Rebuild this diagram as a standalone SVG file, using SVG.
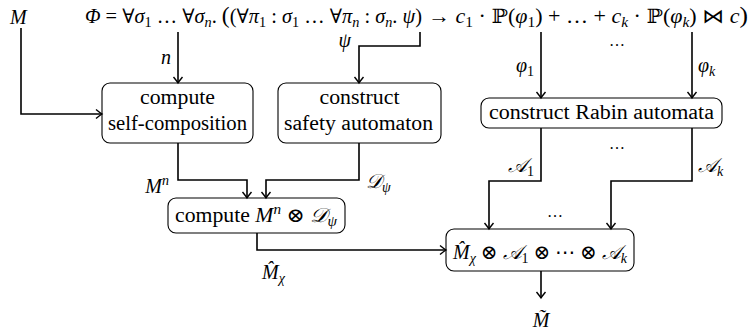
<svg xmlns="http://www.w3.org/2000/svg" width="754" height="336" viewBox="0 0 754 336">
<style>
.t{font-family:"Liberation Serif","DejaVu Serif","DejaVu Sans",serif;font-size:20px;fill:#000}
.m{font-style:italic}
.sb{font-size:14px;baseline-shift:-4px}
.sp{font-size:14px;baseline-shift:8px}
.big{font-size:23px}
.dots{font-size:16px}
.box{fill:#fff;stroke:#000;stroke-width:1.1}
.ln{fill:none;stroke:#000;stroke-width:1.6;marker-end:url(#ah)}
</style>
<defs>
<marker id="ah" markerUnits="userSpaceOnUse" markerWidth="12" markerHeight="12" refX="0" refY="0" viewBox="-7 -6 8 12" orient="auto">
<path d="M-6,-4.5 Q-2,-1.2 0,0 Q-2,1.2 -6,4.5" fill="none" stroke="#000" stroke-width="1.4"/>
</marker>
</defs>

<g id="formula">
<text class="t" x="85" y="23" textLength="337" lengthAdjust="spacingAndGlyphs"><tspan class="m">Φ</tspan> = ∀<tspan class="m">σ</tspan><tspan class="sb">1</tspan> … ∀<tspan class="m">σ</tspan><tspan class="sb m">n</tspan>. <tspan class="big">(</tspan>(∀<tspan class="m">π</tspan><tspan class="sb">1</tspan> : <tspan class="m">σ</tspan><tspan class="sb">1</tspan> … ∀<tspan class="m">π</tspan><tspan class="sb m">n</tspan> : <tspan class="m">σ</tspan><tspan class="sb m">n</tspan>. <tspan class="m">ψ</tspan>)</text>
<text class="t" x="428" y="23" textLength="320" lengthAdjust="spacingAndGlyphs">→ <tspan class="m">c</tspan><tspan class="sb">1</tspan> · ℙ(<tspan class="m">φ</tspan><tspan class="sb">1</tspan>) + … + <tspan class="m">c</tspan><tspan class="sb m">k</tspan> · ℙ(<tspan class="m">φ</tspan><tspan class="sb m">k</tspan>) ⋈ <tspan class="m">c</tspan><tspan class="big">)</tspan></text>
</g>

<g id="lblM"><text class="t m" x="10" y="24">M</text></g>

<g id="selfcomp">
<rect class="box" x="102" y="83" width="151" height="60" rx="8"/>
<text class="t" x="177.5" y="104" text-anchor="middle" textLength="75" lengthAdjust="spacingAndGlyphs">compute</text>
<text class="t" x="177.5" y="130" text-anchor="middle" textLength="139" lengthAdjust="spacingAndGlyphs">self-composition</text>
</g>

<g id="safety">
<rect class="box" x="278" y="83" width="163" height="60" rx="8"/>
<text class="t" x="359.5" y="104" text-anchor="middle" textLength="80" lengthAdjust="spacingAndGlyphs">construct</text>
<text class="t" x="358.5" y="130" text-anchor="middle" textLength="149" lengthAdjust="spacingAndGlyphs">safety automaton</text>
</g>

<g id="rabin">
<rect class="box" x="481" y="98" width="241" height="30" rx="8"/>
<text class="t" x="601.5" y="119" text-anchor="middle" textLength="225" lengthAdjust="spacingAndGlyphs">construct Rabin automata</text>
</g>

<g id="product">
<rect class="box" x="168" y="198" width="177" height="35" rx="8"/>
<text class="t" x="175" y="222" textLength="162" lengthAdjust="spacingAndGlyphs">compute <tspan class="m">M</tspan><tspan class="sp m">n</tspan> ⊗ <tspan class="m">𝒟</tspan><tspan class="sb m">ψ</tspan></text>
</g>

<g id="final">
<rect class="box" x="446" y="229" width="188" height="42" rx="8"/>
<text class="t" x="453" y="259" textLength="174" lengthAdjust="spacingAndGlyphs"><tspan class="m">M̂</tspan><tspan class="sb m">χ</tspan> ⊗ <tspan class="m">𝒜</tspan><tspan class="sb">1</tspan> ⊗ ⋯ ⊗ <tspan class="m">𝒜</tspan><tspan class="sb m">k</tspan></text>
</g>

<g id="connectors">
<path class="ln" d="M21,28 V114 H102"/>
<path class="ln" d="M178,32 V83"/>
<path class="ln" d="M420,32 V46 H359 V83"/>
<path class="ln" d="M541,32 V98"/>
<path class="ln" d="M692,32 V98"/>
<path class="ln" d="M178,143 V180 H247 V198"/>
<path class="ln" d="M359,143 V180 H266 V198"/>
<path class="ln" d="M541,128 V181 H489 V229"/>
<path class="ln" d="M692,128 V181 H611 V229"/>
<path class="ln" d="M257,233 V250 H446"/>
<path class="ln" d="M541,271 V298"/>
</g>

<g id="labels">
<text class="t m" x="171" y="64" text-anchor="end">n</text>
<text class="t m" x="351" y="47" text-anchor="end">ψ</text>
<text class="t" x="534" y="72" text-anchor="end"><tspan class="m">φ</tspan><tspan class="sb">1</tspan></text>
<text class="t" x="698" y="72"><tspan class="m">φ</tspan><tspan class="sb m">k</tspan></text>
<text class="t dots" x="617" y="46" text-anchor="middle">…</text>
<text class="t" x="169" y="193" text-anchor="end"><tspan class="m">M</tspan><tspan class="sp m">n</tspan></text>
<text class="t" x="366" y="188"><tspan class="m">𝒟</tspan><tspan class="sb m">ψ</tspan></text>
<text class="t" x="534" y="172" text-anchor="end"><tspan class="m">𝒜</tspan><tspan class="sb">1</tspan></text>
<text class="t" x="698" y="172"><tspan class="m">𝒜</tspan><tspan class="sb m">k</tspan></text>
<text class="t dots" x="617" y="149" text-anchor="middle">…</text>
<text class="t dots" x="555" y="217" text-anchor="middle">…</text>
<text class="t" x="262" y="279"><tspan class="m">M̂</tspan><tspan class="sb m">χ</tspan></text>
<text class="t m" x="541" y="327" text-anchor="middle">M̃</text>
</g>
</svg>
